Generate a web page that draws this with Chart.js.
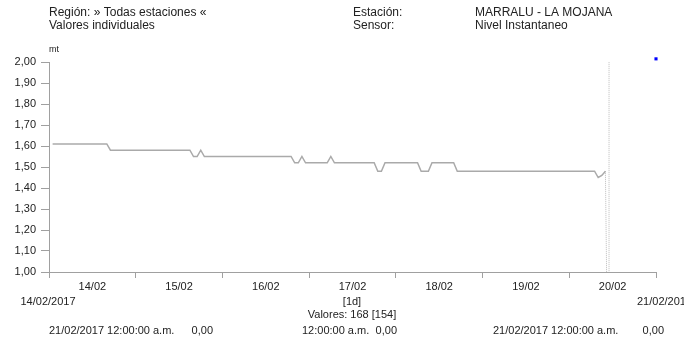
<!DOCTYPE html>
<html>
<head>
<meta charset="utf-8">
<script src="https://cdn.jsdelivr.net/npm/chart.js@4"></script>
<style>
  body { margin: 0; background: #fff; }
  #wrap { width: 684px; height: 339px; }
</style>
</head>
<body>
<div id="wrap"><canvas id="grafico_nivel" width="684" height="339"></canvas></div>
<script>
// horas desde 14/02/2017 00:00 y nivel (mt) en cada cambio
var horas  = [1, 16, 17, 39, 40, 41, 42, 43, 67, 68, 69, 70, 71, 77, 78, 79, 90, 91, 92, 93, 102, 103, 105, 106, 112, 113, 151, 152, 153, 154];
var nivel  = [1.61, 1.61, 1.58, 1.58, 1.55, 1.55, 1.58, 1.55, 1.55, 1.52, 1.52, 1.55, 1.52, 1.52, 1.55, 1.52, 1.52, 1.48, 1.48, 1.52, 1.52, 1.48, 1.48, 1.52, 1.52, 1.48, 1.48, 1.45, 1.46, 1.48];
// tramo sin datos validos (cae a 0,00)
var horasHueco = [154, 155, 155];
var nivelHueco = [1.48, 0, 2.00];
// marca azul al final
var horasMarca = [168];
var nivelMarca = [2.015];

var dias = ['14/02', '15/02', '16/02', '17/02', '18/02', '19/02', '20/02', ''];
var yMin = 1.0, yMax = 2.0, yPaso = 0.1;

function puntos(xs, ys) {
  return xs.map(function(x, i) { return { x: x, y: ys[i] }; });
}

var fuente = '"Liberation Sans", Arial, sans-serif';

var textos = {
  id: 'textos',
  afterDraw: function(chart) {
    var ctx = chart.ctx;
    ctx.save();
    ctx.fillStyle = '#222';
    ctx.textBaseline = 'middle';
    ctx.font = '12px ' + fuente;
    ctx.textAlign = 'left';
    ctx.fillText('Región: » Todas estaciones «', 49, 13);
    ctx.fillText('Valores individuales', 49, 26);
    ctx.fillText('Estación:', 353, 13);
    ctx.fillText('Sensor:', 353, 26);
    ctx.fillText('MARRALU - LA MOJANA', 475, 13);
    ctx.fillText('Nivel Instantaneo', 475, 26);

    ctx.font = '9px ' + fuente;
    ctx.fillText('mt', 49, 50);

    ctx.font = '11px ' + fuente;
    ctx.textAlign = 'center';
    ctx.fillText('14/02/2017', 48, 302);
    ctx.fillText('[1d]', 352, 302);
    ctx.fillText('Valores: 168 [154]', 352, 315);
    ctx.textAlign = 'left';
    ctx.fillText('21/02/2017', 637, 302);

    ctx.fillText('21/02/2017 12:00:00 a.m.', 49, 331);
    ctx.fillText('12:00:00 a.m.', 302, 331);
    ctx.fillText('21/02/2017 12:00:00 a.m.', 493, 331);
    ctx.textAlign = 'right';
    ctx.fillText('0,00', 213, 331);
    ctx.fillText('0,00', 397, 331);
    ctx.fillText('0,00', 664, 331);
    ctx.restore();
  }
};

new Chart(document.getElementById('grafico_nivel'), {
  type: 'line',
  data: {
    datasets: [{
      label: 'Nivel Instantaneo',
      data: puntos(horas, nivel),
      borderColor: '#aaaaaa',
      borderWidth: 1.5,
      pointRadius: 0,
      tension: 0,
      fill: false
    }, {
      label: 'hueco',
      data: puntos(horasHueco, nivelHueco),
      borderColor: '#bbbbbb',
      borderWidth: 1,
      borderDash: [1, 1],
      pointRadius: 0,
      tension: 0,
      fill: false
    }, {
      label: 'marca',
      data: puntos(horasMarca, nivelMarca),
      showLine: false,
      pointStyle: 'rect',
      pointRadius: 2.2,
      pointBorderWidth: 0,
      backgroundColor: '#0000ff',
      borderColor: '#0000ff',
      clip: false
    }]
  },
  options: {
    responsive: false,
    animation: false,
    layout: { padding: { top: 62, right: 28, left: 0, bottom: 0 } },
    plugins: {
      legend: { display: false },
      title: { display: false },
      tooltip: { enabled: false }
    },
    scales: {
      x: {
        type: 'linear',
        min: 0,
        max: 168,
        afterFit: function(s) { s.height = 67; },
        border: { color: '#a0a0a0', width: 1 },
        grid: { drawOnChartArea: false, color: '#a0a0a0', tickLength: 6 },
        afterBuildTicks: function(s) {
          s.ticks = dias.map(function(d, i) { return { value: i * 24 }; });
        },
        ticks: {
          autoSkip: false,
          maxRotation: 0,
          padding: 2,
          labelOffset: 43.35,
          color: '#222',
          font: { family: fuente, size: 11 },
          callback: function(v) { return dias[Math.round(v / 24)]; }
        }
      },
      y: {
        min: yMin,
        max: yMax,
        afterFit: function(s) { s.width = 49; },
        border: { color: '#a0a0a0', width: 1 },
        grid: { drawOnChartArea: false, color: '#a0a0a0', tickLength: 8 },
        ticks: {
          stepSize: yPaso,
          padding: 5,
          color: '#222',
          font: { family: fuente, size: 11 },
          callback: function(v) { return v.toFixed(2).replace('.', ','); }
        }
      }
    }
  },
  plugins: [textos]
});
</script>
</body>
</html>
